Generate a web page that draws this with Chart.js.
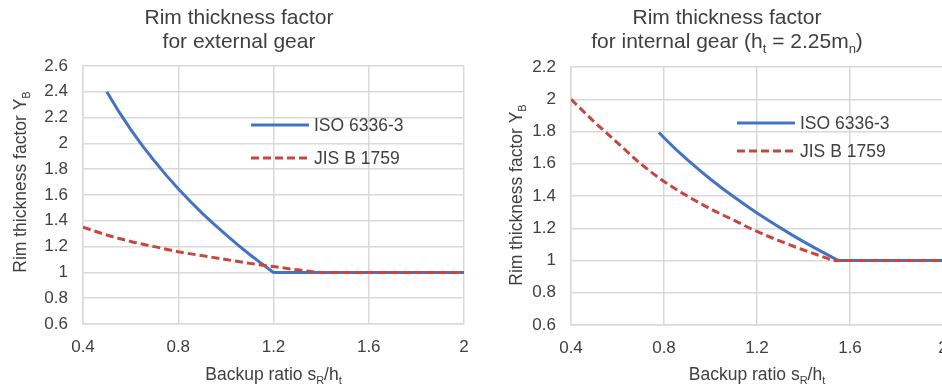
<!DOCTYPE html>
<html>
<head>
<meta charset="utf-8">
<script src="https://cdn.jsdelivr.net/npm/chart.js@4"></script>
<style>
  html, body { margin: 0; padding: 0; background: #fff; overflow: hidden; width: 942px; height: 390px; }
  #left { position: absolute; left: 0; top: 0; }
  #right { position: absolute; left: 476px; top: 0; }
</style>
</head>
<body>
<canvas id="left" width="476" height="390"></canvas>
<canvas id="right" width="490" height="390"></canvas>
<script>
// external gear, ISO 6336-3
const extIsoX = [0.5, 0.55, 0.6, 0.65, 0.7, 0.75, 0.8, 0.85, 0.9, 0.95, 1.0, 1.05, 1.1, 1.15, 1.2, 2.0];
const extIsoY = [2.400, 2.248, 2.109, 1.981, 1.863, 1.752, 1.649, 1.552, 1.460, 1.374, 1.292, 1.214, 1.139, 1.068, 1.0, 1.0];
// external gear, JIS B 1759
const extJisX = [0.4, 0.5, 0.6, 0.7, 0.8, 0.9, 1.0, 1.1, 1.2, 1.3, 1.4, 2.0];
const extJisY = [1.35, 1.29, 1.24, 1.20, 1.16, 1.13, 1.10, 1.07, 1.045, 1.02, 1.0, 1.0];
// internal gear, ISO 6336-3
const intIsoX = [0.778, 0.8, 0.85, 0.9, 0.95, 1.0, 1.05, 1.1, 1.15, 1.2, 1.25, 1.3, 1.35, 1.4, 1.45, 1.5, 1.55, 2.0];
const intIsoY = [1.794, 1.761, 1.691, 1.626, 1.563, 1.504, 1.448, 1.395, 1.344, 1.295, 1.248, 1.203, 1.159, 1.117, 1.077, 1.038, 1.0, 1.0];
// internal gear, JIS B 1759
const intJisX = [0.4, 0.5, 0.6, 0.7, 0.8, 0.9, 1.0, 1.1, 1.2, 1.3, 1.4, 1.5, 1.53, 2.0];
const intJisY = [2.0, 1.86, 1.73, 1.60, 1.49, 1.40, 1.32, 1.25, 1.18, 1.12, 1.065, 1.015, 1.0, 1.0];

const seriesNames = ['ISO 6336-3', 'JIS B 1759'];
const xRange = [0.4, 2.0, 0.4];       // min, max, step
const extYRange = [0.6, 2.6, 0.2];
const intYRange = [0.6, 2.2, 0.2];

const FONT = '"Liberation Sans", Arial, sans-serif';
const TEXT = '#404040';
const BLUE = '#4472C4';
const RED = '#C9463F';

const pts = (xs, ys) => xs.map((x, i) => ({ x: x, y: ys[i] }));
const fmt = v => String(Math.round(v * 10) / 10);

// draw text made of parts, some of them subscripts, centred on cx
function drawRich(ctx, parts, cx, baseline, size) {
  const subSize = Math.round(size * 0.62);
  let w = 0;
  parts.forEach(p => {
    ctx.font = (p.sub ? subSize : size) + 'px ' + FONT;
    p.w = ctx.measureText(p.t).width;
    w += p.w;
  });
  let x = cx - w / 2;
  ctx.textAlign = 'left';
  ctx.textBaseline = 'alphabetic';
  parts.forEach(p => {
    ctx.font = (p.sub ? subSize : size) + 'px ' + FONT;
    ctx.fillText(p.t, x, p.sub ? baseline + size * 0.22 : baseline);
    x += p.w;
  });
}

const textPlugin = {
  id: 'texts',
  afterDraw(chart, args, o) {
    const ctx = chart.ctx;
    const ca = chart.chartArea;
    ctx.save();
    ctx.fillStyle = TEXT;
    o.title.forEach((line, i) => drawRich(ctx, line, o.titleX, [24, 48][i], 21));
    drawRich(ctx, [{ t: 'Backup ratio s' }, { t: 'R', sub: true }, { t: '/h' }, { t: 't', sub: true }],
      (ca.left + ca.right) / 2, 380, 17.5);
    ctx.save();
    ctx.translate(o.yTitleX, o.yTitleY);
    ctx.rotate(-Math.PI / 2);
    drawRich(ctx, [{ t: 'Rim thickness factor Y' }, { t: 'B', sub: true }], 0, 0, 17.5);
    ctx.restore();

    // legend
    const ds = chart.data.datasets;
    o.legendY.forEach((ly, i) => {
      ctx.save();
      ctx.strokeStyle = ds[i].borderColor;
      ctx.lineWidth = ds[i].borderWidth;
      ctx.setLineDash(ds[i].borderDash || []);
      ctx.beginPath();
      ctx.moveTo(o.legendX, ly);
      ctx.lineTo(o.legendX + 58, ly);
      ctx.stroke();
      ctx.restore();
      ctx.font = '17.5px ' + FONT;
      ctx.fillStyle = TEXT;
      ctx.textAlign = 'left';
      ctx.textBaseline = 'middle';
      ctx.fillText(ds[i].label, o.legendX + 63, ly + 1);
    });
    ctx.restore();
  }
};

function makeChart(id, iso, jis, yRange, opt) {
  return new Chart(document.getElementById(id), {
    type: 'line',
    data: {
      datasets: [{
        label: seriesNames[0],
        data: iso,
        borderColor: BLUE,
        borderWidth: 3,
        pointRadius: 0,
        order: 2
      }, {
        label: seriesNames[1],
        data: jis,
        borderColor: RED,
        borderWidth: 3,
        borderDash: [8, 4],
        pointRadius: 0,
        cubicInterpolationMode: 'monotone',
        order: 1
      }]
    },
    options: {
      responsive: false,
      animation: false,
      layout: { padding: { left: 0, top: opt.top, right: opt.right, bottom: 0 } },
      plugins: {
        legend: { display: false },
        tooltip: { enabled: false },
        texts: opt.texts
      },
      scales: {
        x: {
          type: 'linear',
          min: xRange[0], max: xRange[1],
          ticks: { stepSize: xRange[2], padding: 13, color: TEXT, font: { family: FONT, size: 17 }, callback: fmt },
          grid: { color: '#d9d9d9', lineWidth: 1.5, drawTicks: false },
          border: { color: '#d9d9d9', width: 1.5 },
          afterFit: s => { s.height = 390 - opt.bottom; s.paddingLeft = 0; s.paddingRight = 0; }
        },
        y: {
          min: yRange[0], max: yRange[1],
          ticks: { stepSize: yRange[2], padding: 15, color: TEXT, font: { family: FONT, size: 17 }, callback: fmt },
          grid: { color: '#d9d9d9', lineWidth: 1.5, drawTicks: false },
          border: { color: '#d9d9d9', width: 1.5 },
          afterFit: s => { s.width = opt.yWidth; s.paddingTop = 0; s.paddingBottom = 0; }
        }
      }
    },
    plugins: [textPlugin]
  });
}

makeChart('left', pts(extIsoX, extIsoY), pts(extJisX, extJisY), extYRange, {
  top: 66, right: 12, bottom: 324, yWidth: 83,
  texts: {
    title: [[{ t: 'Rim thickness factor' }], [{ t: 'for external gear' }]],
    titleX: 239,
    yTitleX: 26, yTitleY: 182,
    legendX: 251, legendY: [125, 158]
  }
});

makeChart('right', pts(intIsoX, intIsoY), pts(intJisX, intJisY), intYRange, {
  top: 67, right: 23, bottom: 325, yWidth: 95,
  texts: {
    title: [[{ t: 'Rim thickness factor' }],
      [{ t: 'for internal gear (h' }, { t: 't', sub: true }, { t: ' = 2.25m' }, { t: 'n', sub: true }, { t: ')' }]],
    titleX: 251,
    yTitleX: 46, yTitleY: 195,
    legendX: 261, legendY: [123, 151]
  }
});
</script>
</body>
</html>
